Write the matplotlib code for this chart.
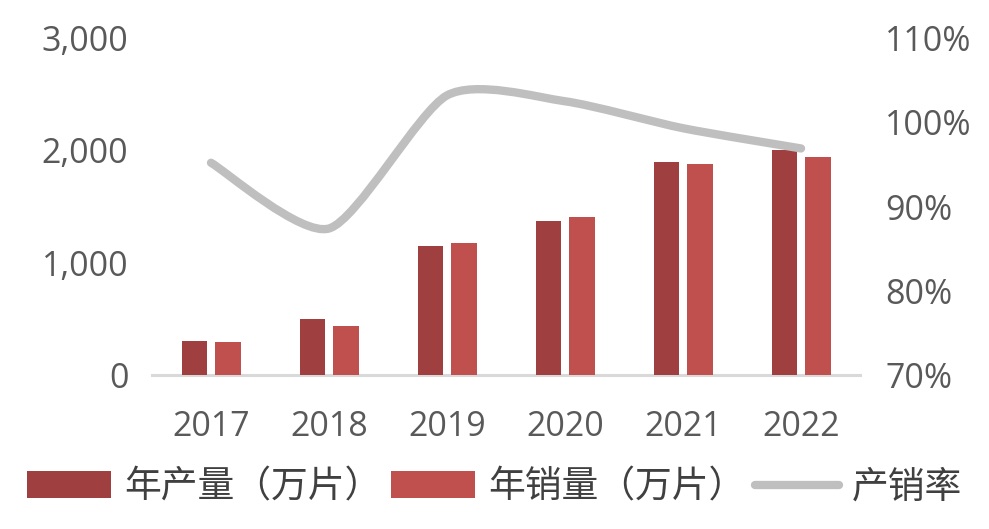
import numpy as np
import matplotlib
matplotlib.use("Agg")
import matplotlib.pyplot as plt
from matplotlib.path import Path
from matplotlib.patches import PathPatch, Patch
from matplotlib.lines import Line2D
from matplotlib.ticker import FuncFormatter, FixedLocator

years = ["2017", "2018", "2019", "2020", "2021", "2022"]
production = [304, 500, 1152, 1375, 1893, 2000]   # 年产量（万片）
sales = [296, 437, 1179, 1411, 1875, 1938]         # 年销量（万片）
ratio = [95.2, 87.4, 103.2, 102.5, 99.3, 96.9]     # 产销率 (%)

left_ticks = [0, 1000, 2000, 3000]
right_ticks = [70, 80, 90, 100, 110]
legend_labels = ["年产量（万片）", "年销量（万片）", "产销率"]

c_prod = "#A03F3F"
c_sales = "#C0504D"
c_line = "#BFBFBF"
c_text = "#595959"

plt.rcParams['font.family'] = ['Open Sans', 'DejaVu Sans']

fig = plt.figure(figsize=(9.89, 5.29), dpi=100)
ax = fig.add_axes([0.1537, 0.291, 0.7159, 0.637])
ax2 = ax.twinx()

x = np.arange(len(years))
w = 0.22
off = 0.14
ax.bar(x - off, production, width=w, color=c_prod, zorder=2)
ax.bar(x + off, sales, width=w, color=c_sales, zorder=2)

ax.set_xlim(-0.5, len(years) - 0.5)
ax.set_ylim(0, 3000)
ax.yaxis.set_major_locator(FixedLocator(left_ticks))
ax.yaxis.set_major_formatter(FuncFormatter(lambda v, p: f"{int(v):,}"))
ax.set_xticks(x)
ax.set_xticklabels(years)

ax2.set_ylim(70, 110)
ax2.yaxis.set_major_locator(FixedLocator(right_ticks))
ax2.yaxis.set_major_formatter(FuncFormatter(lambda v, p: f"{int(v)}%"))

for a in (ax, ax2):
    for s in ("top", "left", "right", "bottom"):
        a.spines[s].set_visible(False)
ax.spines["bottom"].set_visible(True)
ax.spines["bottom"].set_color("#D9D9D9")
ax.spines["bottom"].set_linewidth(2.2)
ax.spines["bottom"].set_zorder(1)

fs = 24.5
ax.tick_params(axis="x", length=0, pad=25, labelsize=fs, labelcolor=c_text)
ax.tick_params(axis="y", length=0, pad=17, labelsize=fs, labelcolor=c_text)
ax2.tick_params(axis="y", length=0, pad=18, labelsize=fs, labelcolor=c_text)

# smoothed line (Excel-like Bezier smoothing) through the ratio points
px = x.astype(float)
py = np.array(ratio, dtype=float)
n = len(px)
t = 0.12
verts = [(px[0], py[0])]
codes = [Path.MOVETO]
for i in range(n - 1):
    p0 = (px[i - 1], py[i - 1]) if i > 0 else (px[i], py[i])
    p1 = (px[i], py[i])
    p2 = (px[i + 1], py[i + 1])
    p3 = (px[i + 2], py[i + 2]) if i + 2 < n else (px[i + 1], py[i + 1])
    c1 = (p1[0] + (p2[0] - p0[0]) * t, p1[1] + (p2[1] - p0[1]) * t)
    c2 = (p2[0] - (p3[0] - p1[0]) * t, p2[1] - (p3[1] - p1[1]) * t)
    verts += [c1, c2, p2]
    codes += [Path.CURVE4] * 3
path = Path(verts, codes)
ax2.add_patch(PathPatch(path, facecolor="none", edgecolor=c_line, lw=6,
                        capstyle="round", joinstyle="round", zorder=3))

handles = [Patch(facecolor=c_prod, edgecolor="none"),
           Patch(facecolor=c_sales, edgecolor="none"),
           Line2D([], [], color=c_line, lw=6, solid_capstyle="round")]
leg = fig.legend(handles, legend_labels, loc="center", bbox_to_anchor=(0.5, 0.079),
                 ncol=3, frameon=False, handlelength=2.3, handleheight=0.75,
                 handletextpad=0.35, columnspacing=0.25,
                 prop={"family": ["Noto Sans CJK SC", "DejaVu Sans"], "size": 26.5,
                       "weight": "light"})
for txt in leg.get_texts():
    txt.set_color("#404040")

fig.savefig("out.png", dpi=100, facecolor="white")
